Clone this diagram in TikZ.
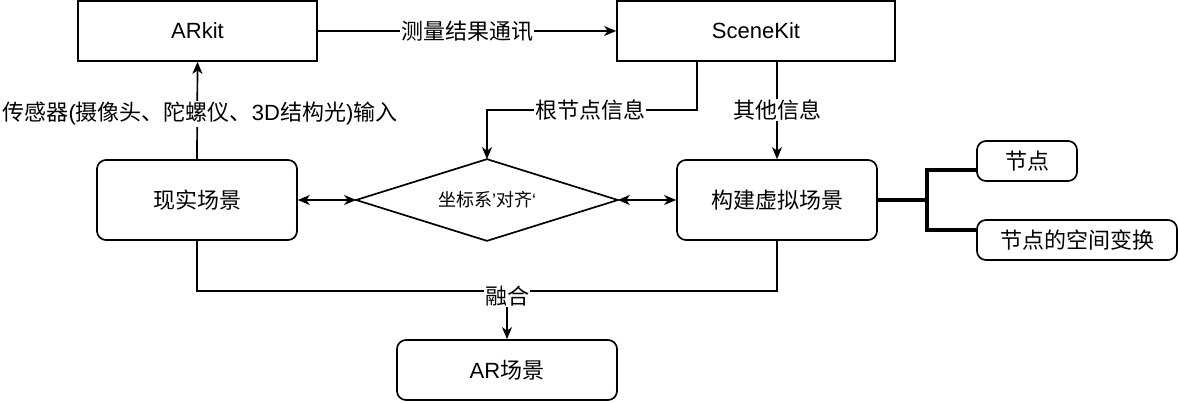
\documentclass[tikz,border=0pt]{standalone}
\usepackage{fontspec}
\setmainfont{Liberation Sans}
\newfontfamily\cjk{Noto Sans CJK SC}
\usetikzlibrary{shapes.geometric,arrows.meta,positioning}
\begin{document}
\begin{tikzpicture}[x=1pt,y=-1pt,
  font=\fontsize{22}{26}\selectfont,
  line width=1.7pt,
  tip/.style={-{Stealth[length=12pt,width=10pt,inset=3.5pt]}},
  dtip/.style={{Stealth[length=12pt,width=10pt,inset=3.5pt]}-{Stealth[length=12pt,width=10pt,inset=3.5pt]}},
  sqbox/.style={draw,rectangle,inner sep=0pt},
  rbox/.style={draw,rectangle,rounded corners=9pt,inner sep=0pt},
  lbl/.style={fill=white,inner sep=1pt},
  brace/.style={line width=3.6pt}
]
\useasboundingbox (0,0) rectangle (1178,402);
\node[sqbox,minimum width=239pt,minimum height=60pt] (arkit) at (197.5,31) {ARkit};
\node[sqbox,minimum width=278pt,minimum height=60pt] (scene) at (756,31) {SceneKit};
\node[rbox,minimum width=200pt,minimum height=80pt] (real) at (197,200) {\cjk 现实场景};
\node[rectangle,inner sep=0pt,minimum width=260pt,minimum height=80pt,font=\fontsize{18}{22}\selectfont] (align) at (487,200) {{\cjk 坐标系}'{\cjk 对齐}‘};
\draw (align.north) -- (align.east) -- (align.south) -- (align.west) -- cycle;
\node[rbox,minimum width=200pt,minimum height=80pt] (virt) at (777,200) {\cjk 构建虚拟场景};
\node[rbox,minimum width=100pt,minimum height=40pt] (n1) at (1027,161) {\cjk 节点};
\node[rbox,minimum width=200pt,minimum height=40pt] (n2) at (1077,240) {\cjk 节点的空间变换};
\node[rbox,minimum width=220pt,minimum height=60pt] (ar) at (507,370) {AR{\cjk 场景}};

% ARkit -> SceneKit
\draw[tip] (arkit.east) -- node[lbl] {\cjk 测量结果通讯} (scene.west);
% real -> ARkit
\draw[tip] (real.north) -- (arkit.south);
\node[lbl] (sens) at (200,114) {{\cjk 传感器}({\cjk 摄像头、陀螺仪、}3D{\cjk 结构光})\cjk 输入};
% SceneKit -> diamond
\coordinate (s1) at (697,61);
\coordinate (s2) at (697,110);
\draw[tip] (s1) -- (s2) -| (align.north);
\node[lbl] (rootl) at (590,110) {\cjk 根节点信息};
% SceneKit -> virtual
\draw[tip] (scene.south -| virt.north) -- (virt.north);
\node[lbl] (otherl) at (777,110) {\cjk 其他信息};
% double arrows
\draw[dtip] (real.east) -- (align.west);
\draw[dtip] (align.east) -- (virt.west);
% fusion
\coordinate (f1) at (197,291);
\coordinate (f2) at (777,291);
\coordinate (fm) at (507,291);
\draw (real.south) -- (f1) -- (f2) -- (virt.south);
\draw[tip] (fm) -- (ar.north);
\node[lbl] (fusel) at (507,296) {\cjk 融合};
% bracket
\coordinate (b0) at (927,200);
\coordinate (b1) at (927,170);
\coordinate (b2) at (927,230);
\draw[brace] (virt.east) -- (b0);
\draw[brace] (n1.west |- b1) -- (b1) -- (b2) -- (n2.west |- b2);
\end{tikzpicture}
\end{document}
